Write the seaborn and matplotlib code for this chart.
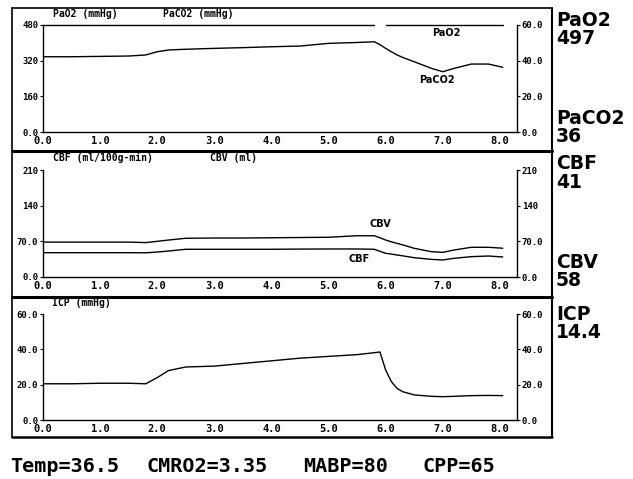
import numpy as np
import pandas as pd
import seaborn as sns
import matplotlib.pyplot as plt
from matplotlib.lines import Line2D

tempo = [0.0, 0.5, 1.0, 1.5, 1.8, 2.0, 2.2, 2.5, 3.0, 3.5, 4.0, 4.5, 5.0, 5.5,
         5.8, 5.9, 6.0, 6.1, 6.2, 6.3, 6.5, 6.8, 7.0, 7.2, 7.5, 7.8, 8.05]
pao2 = [497, 497, 497, 497, 497, 497, 497, 497, 497, 497, 497, 497, 497, 497,
        497, np.nan, 497, 497, 497, 497, 497, 497, 497, 497, 497, 497, 497]
paco2 = [42.2, 42.2, 42.4, 42.6, 43.2, 45.0, 46.0, 46.4, 46.9, 47.3, 47.8, 48.2, 49.7, 50.2,
         50.6, 49.0, 46.9, 45.0, 43.2, 41.8, 39.4, 35.7, 33.8, 35.7, 38.1, 38.1, 36.3]
cbv = [68.5, 68.5, 68.5, 68.5, 67.5, 70.0, 72.6, 76.0, 76.5, 76.5, 77.0, 77.5, 78.0, 81.0,
       81.0, 77.0, 72.6, 69.0, 66.0, 63.0, 56.3, 49.7, 48.4, 53.0, 58.3, 58.3, 56.5]
cbf = [47.7, 47.7, 47.7, 47.7, 47.5, 49.0, 51.0, 54.4, 54.4, 54.4, 54.4, 54.8, 55.0, 55.0,
       54.4, 50.5, 46.5, 45.0, 43.2, 41.5, 37.9, 34.6, 33.4, 36.7, 39.9, 41.2, 39.3]
icp = [20.5, 20.5, 20.8, 20.8, 20.5, 24.0, 28.0, 30.0, 30.5, 32.0, 33.5, 35.0, 36.0, 37.0,
       38.1, 38.5, 28.3, 21.7, 17.9, 16.0, 14.2, 13.4, 13.2, 13.4, 13.8, 13.9, 13.8]

valores_atuais = [("PaO2", "497"), ("PaCO2", "36"), ("CBF", "41"), ("CBV", "58"), ("ICP", "14.4")]
rodape = ["Temp=36.5", "CMRO2=3.35", "MABP=80", "CPP=65"]

df = pd.DataFrame({"tempo": tempo, "pao2": pao2, "paco2": paco2,
                   "cbv": cbv, "cbf": cbf, "icp": icp})
# o traço de PaO2 fica preso no topo da escala (480)
df["pao2_tela"] = df["pao2"].clip(upper=480)
df["seg"] = df["pao2"].isna().cumsum()

sns.set_style("white", {"text.color": "black", "xtick.color": "black",
                        "ytick.color": "black", "axes.labelcolor": "black"})
plt.rcParams['font.family'] = ['DejaVu Sans']

W, H = 633, 479
fig = plt.figure(figsize=(W / 100, H / 100), dpi=100)

def fx(px):
    return px / W

def fy(py):
    return 1 - py / H

mono = dict(family='DejaVu Sans Mono', weight='bold', color='black')
cor = 'black'

def montar_eixo(topo, base, ymax, yticks, ylabels, rticks, rlabels):
    ax = fig.add_axes([fx(43), fy(base), fx(517 - 43), (base - topo) / H])
    ax.set_xlim(0, 8.3)
    ax.set_ylim(0, ymax)
    ax.set_xticks(range(9))
    ax.set_xticklabels([f"{i}.0" for i in range(9)], fontdict=dict(size=7.5, **mono))
    ax.set_yticks(yticks)
    ax.set_yticklabels(ylabels, fontdict=dict(size=6.5, **mono))
    ax.tick_params(axis='both', direction='out', length=2.5, width=0.8, pad=1, color=cor)
    ax.tick_params(axis='x', pad=0.5)
    for s in ['top', 'right']:
        ax.spines[s].set_visible(False)
    for s in ['left', 'bottom']:
        ax.spines[s].set_color(cor)
        ax.spines[s].set_linewidth(1.0)
    ax2 = ax.twinx()
    ax2.set_ylim(0, rticks[-1])
    ax2.set_yticks(rticks)
    ax2.set_yticklabels(rlabels, fontdict=dict(size=6.5, **mono))
    ax2.tick_params(axis='y', direction='out', length=2.5, width=0.8, pad=1, color=cor)
    for s in ['top', 'left', 'bottom']:
        ax2.spines[s].set_visible(False)
    ax2.spines['right'].set_color(cor)
    ax2.spines['right'].set_linewidth(1.0)
    return ax, ax2

# Painel 1: PaO2 / PaCO2
ax1, ax1r = montar_eixo(25, 132, 480, [0, 160, 320, 480], ["0.0", "160", "320", "480"],
                        [0, 20, 40, 60], ["0.0", "20.0", "40.0", "60.0"])
sns.lineplot(data=df.dropna(subset=["pao2"]), x="tempo", y="pao2_tela", units="seg",
             estimator=None, color=cor, lw=1.0, ax=ax1, clip_on=False)
sns.lineplot(data=df, x="tempo", y="paco2", color=cor, lw=1.0, ax=ax1r)
ax1.text(7.07, 444, "PaO2", fontsize=7, weight='bold', ha='center', va='center')
ax1.text(6.9, 233, "PaCO2", fontsize=7, weight='bold', ha='center', va='center')

# Painel 2: CBF / CBV
ax2, ax2r = montar_eixo(170, 277, 210, [0, 70, 140, 210], ["0.0", "70.0", "140", "210"],
                        [0, 70, 140, 210], ["0.0", "70.0", "140", "210"])
sns.lineplot(data=df, x="tempo", y="cbf", color=cor, lw=1.0, ax=ax2)
sns.lineplot(data=df, x="tempo", y="cbv", color=cor, lw=1.0, ax=ax2r)
ax2.text(5.9, 104, "CBV", fontsize=7, weight='bold', ha='center', va='center')
ax2.text(5.53, 35, "CBF", fontsize=7, weight='bold', ha='center', va='center')

# Painel 3: ICP
ax3, ax3r = montar_eixo(314, 420, 60, [0, 20, 40, 60], ["0.0", "20.0", "40.0", "60.0"],
                        [0, 20, 40, 60], ["0.0", "20.0", "40.0", "60.0"])
sns.lineplot(data=df, x="tempo", y="icp", color=cor, lw=1.0, ax=ax3)

for ax in [ax1, ax1r, ax2, ax2r, ax3, ax3r]:
    ax.set_xlabel('')
    ax.set_ylabel('')

# Cabeçalhos dos painéis
cab = dict(size=7, **mono)
fig.text(fx(53), fy(14), "PaO2 (mmHg)", va='center', fontdict=cab)
fig.text(fx(163), fy(14), "PaCO2 (mmHg)", va='center', fontdict=cab)
fig.text(fx(53), fy(158), "CBF (ml/100g-min)", va='center', fontdict=cab)
fig.text(fx(210), fy(158), "CBV (ml)", va='center', fontdict=cab)
fig.text(fx(52), fy(303), "ICP (mmHg)", va='center', fontdict=cab)

# Molduras
def linha(x0, y0, x1, y1, lw):
    fig.add_artist(Line2D([fx(x0), fx(x1)], [fy(y0), fy(y1)], color=cor, lw=lw))

linha(12, 8, 552, 8, 1.2)
linha(12, 8, 12, 437, 1.2)
linha(552, 8, 552, 437, 1.5)
linha(12, 151, 552, 151, 2.2)
linha(12, 297, 552, 297, 2.2)
linha(12, 437, 552, 437, 1.8)

# Valores atuais à direita
pos_y = [20, 118, 164, 262, 314]
for (nome, valor), y in zip(valores_atuais, pos_y):
    fig.text(fx(556), fy(y), nome, fontsize=13.5, weight='bold', va='center', ha='left',
             color='black')
    fig.text(fx(556), fy(y + 19), valor, fontsize=13.5, weight='bold', va='center', ha='left',
             color='black')

# Rodapé
for txt, x in zip(rodape, [10, 147, 303, 422]):
    fig.text(fx(x), fy(466), txt, va='center', ha='left',
             fontdict=dict(size=14.5, **mono))

fig.savefig("out.png", dpi=100)
